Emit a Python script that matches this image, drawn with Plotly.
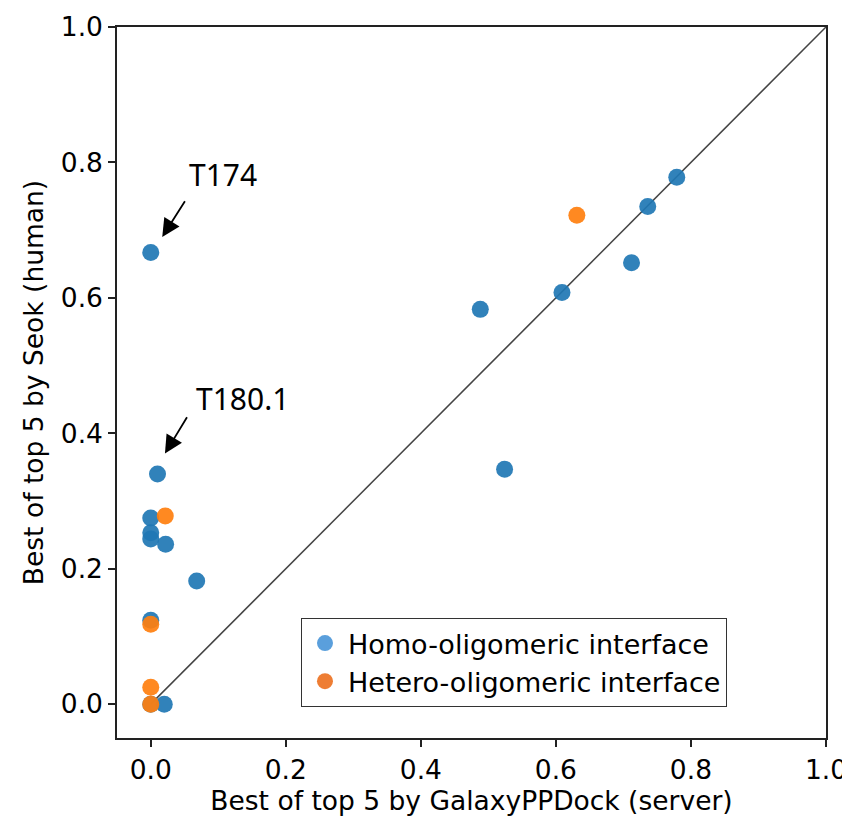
import plotly.graph_objects as go

# ---- data ----
homo_x = [0.0, 0.010, 0.0, 0.0, 0.0, 0.022, 0.068, 0.0, 0.0, 0.020,
          0.488, 0.524, 0.609, 0.712, 0.736, 0.779]
homo_y = [0.667, 0.340, 0.275, 0.253, 0.244, 0.236, 0.182, 0.124, 0.0, 0.0,
          0.583, 0.347, 0.608, 0.652, 0.735, 0.778]

hetero_x = [0.631, 0.0215, 0.0, 0.0, 0.0]
hetero_y = [0.722, 0.278, 0.118, 0.025, 0.0]

diag = [0.0, 1.0]

labels = ["T174", "T180.1"]
label_tip_x = [0.017, 0.021]
label_tip_y = [0.690, 0.370]
label_tail_x = [0.052, 0.055]
label_tail_y = [0.745, 0.426]
label_text_x = [0.053, 0.064]
label_text_y = [0.782, 0.452]

ticks = [0.0, 0.2, 0.4, 0.6, 0.8, 1.0]
tick_text = ["0.0", "0.2", "0.4", "0.6", "0.8", "1.0"]

BLUE = "#1f77b4"
ORANGE = "#ff7f0e"
BLUE_LEG = "#5a9fdc"
ORANGE_LEG = "#ee7d33"

fig = go.Figure()

fig.add_trace(go.Scatter(x=diag, y=diag, mode="lines",
                         line=dict(color="#444444", width=1.5),
                         showlegend=False, hoverinfo="skip"))
fig.add_trace(go.Scatter(x=homo_x, y=homo_y, mode="markers",
                         marker=dict(color=BLUE, size=17, opacity=0.92,
                                     line=dict(width=0)),
                         showlegend=False))
fig.add_trace(go.Scatter(x=hetero_x, y=hetero_y, mode="markers",
                         marker=dict(color=ORANGE, size=17, opacity=0.92,
                                     line=dict(width=0)),
                         showlegend=False))
# legend entries
fig.add_trace(go.Scatter(x=[None], y=[None], mode="markers",
                         marker=dict(color=BLUE_LEG, size=17),
                         name="Homo-oligomeric interface"))
fig.add_trace(go.Scatter(x=[None], y=[None], mode="markers",
                         marker=dict(color=ORANGE_LEG, size=17),
                         name="Hetero-oligomeric interface"))

for i, lab in enumerate(labels):
    fig.add_annotation(x=label_tip_x[i], y=label_tip_y[i],
                       ax=label_tail_x[i], ay=label_tail_y[i],
                       axref="x", ayref="y", xref="x", yref="y",
                       text="", showarrow=True, arrowhead=2,
                       arrowsize=2.0, arrowwidth=1.8, arrowcolor="black")
    fig.add_annotation(x=label_text_x[i], y=label_text_y[i],
                       xref="x", yref="y", text=lab, showarrow=False,
                       xanchor="left", yanchor="middle",
                       font=dict(family="Noto Sans", size=30, color="black"))

axis_common = dict(range=[-0.05, 1.0], tickvals=ticks, ticktext=tick_text,
                   showgrid=False, zeroline=False, showline=True,
                   linecolor="#222222", linewidth=1.5, mirror=True,
                   ticks="outside", ticklen=7, tickwidth=1.5,
                   tickcolor="#222222", automargin=False,
                   tickfont=dict(family="DejaVu Sans", size=26.5, color="black"))

fig.update_xaxes(**axis_common,
                 title=dict(text="Best of top 5 by GalaxyPPDock (server)",
                            font=dict(family="DejaVu Sans", size=26.5,
                                      color="black"),
                            standoff=10))
fig.update_yaxes(**axis_common,
                 title=dict(text="Best of top 5 by Seok (human)",
                            font=dict(family="DejaVu Sans", size=26.5,
                                      color="black"),
                            standoff=10))

# the page adds an 8px body margin, so the figure is sized to fit the window
fig.update_layout(
    width=842, height=808,
    margin=dict(l=109, r=24, t=19, b=78),
    plot_bgcolor="white", paper_bgcolor="white",
    legend=dict(x=0.2595, y=0.1688, xanchor="left", yanchor="top",
                bgcolor="white", bordercolor="#333333", borderwidth=1,
                font=dict(family="DejaVu Sans", size=27, color="black"),
                itemwidth=36, tracegroupgap=0),
    showlegend=True,
)

fig.write_html("out.html")
